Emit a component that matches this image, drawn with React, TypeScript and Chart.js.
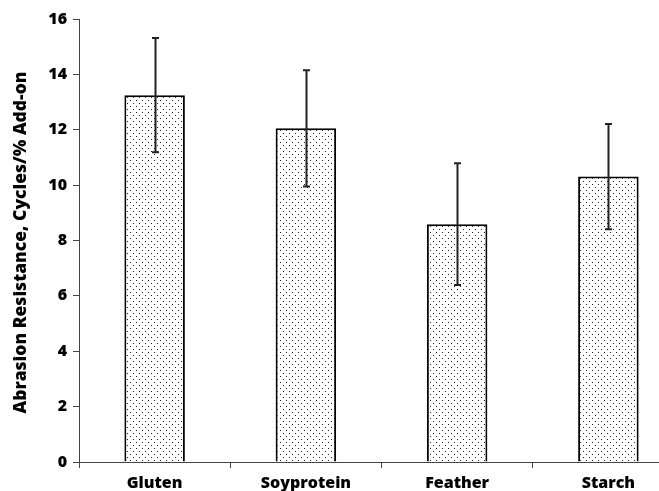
import React, { useEffect, useRef } from "react";
import { Chart, registerables } from "chart.js";

Chart.register(...registerables);

const categories = ["Gluten", "Soyprotein", "Feather", "Starch"];
const values = [13.25, 12.05, 8.59, 10.31];
const errors = [2.06, 2.1, 2.2, 1.9];
const yTicks = [0, 2, 4, 6, 8, 10, 12, 14, 16];
const yTitle = "Abrasion Resistance, Cycles/% Add-on";

const FONT = "'Open Sans'";

function makePattern(): CanvasPattern | string {
  const c = document.createElement("canvas");
  c.width = 6;
  c.height = 6;
  const ctx = c.getContext("2d");
  if (!ctx) return "#ddd";
  ctx.fillStyle = "#ffffff";
  ctx.fillRect(0, 0, 6, 6);
  ctx.fillStyle = "#222222";
  ctx.fillRect(1, 1, 1, 1);
  ctx.fillRect(4, 4, 1, 1);
  const p = ctx.createPattern(c, "repeat");
  return p || "#ddd";
}

const errorBarPlugin = {
  id: "errorBars",
  afterDatasetsDraw(chart: any) {
    const ctx = chart.ctx;
    const meta = chart.getDatasetMeta(0);
    const yScale = chart.scales.y;
    ctx.save();
    ctx.strokeStyle = "#222";
    ctx.lineWidth = 2;
    meta.data.forEach((bar: any, i: number) => {
      const x = Math.round(bar.x) + 0.5;
      const yTop = yScale.getPixelForValue(values[i] + errors[i]);
      const yBot = yScale.getPixelForValue(values[i] - errors[i]);
      ctx.beginPath();
      ctx.moveTo(x, yTop);
      ctx.lineTo(x, yBot);
      ctx.moveTo(x - 3.5, yTop);
      ctx.lineTo(x + 3.5, yTop);
      ctx.moveTo(x - 3.5, yBot);
      ctx.lineTo(x + 3.5, yBot);
      ctx.stroke();
    });
    ctx.restore();
  },
};

const yTitlePlugin = {
  id: "yTitleCustom",
  afterDraw(chart: any) {
    const ctx = chart.ctx;
    const yScale = chart.scales.y;
    const cy = (yScale.top + yScale.bottom) / 2 + 2;
    ctx.save();
    ctx.translate(21.5, cy);
    ctx.rotate(-Math.PI / 2);
    ctx.fillStyle = "#000";
    ctx.font = `800 17.5px ${FONT}`;
    ctx.textAlign = "center";
    ctx.textBaseline = "middle";
    ctx.fillText(yTitle, 0, 0);
    ctx.restore();
  },
};

export default function App() {
  const ref = useRef<HTMLCanvasElement>(null);
  useEffect(() => {
    if (!ref.current) return;
    const chart = new Chart(ref.current, {
      type: "bar",
      data: {
        labels: categories,
        datasets: [
          {
            data: values,
            backgroundColor: makePattern() as any,
            borderColor: "#000",
            borderWidth: 2,
            barPercentage: 0.4,
            categoryPercentage: 1,
          },
        ],
      },
      options: {
        animation: false,
        responsive: false,
        maintainAspectRatio: false,
        layout: { padding: { left: 0, right: 16, top: 19, bottom: 0 } },
        plugins: { legend: { display: false }, tooltip: { enabled: false } },
        scales: {
          x: {
            offset: true,
            grid: {
              offset: true,
              drawOnChartArea: false,
              tickLength: 6,
              color: "#444",
            },
            border: { display: true, color: "#444", width: 1 },
            ticks: {
              color: "#000",
              font: { family: FONT, size: 16, weight: "800" },
              padding: 6,
              maxRotation: 0,
            },
            afterFit(scale: any) {
              scale.height = 29;
            },
          },
          y: {
            min: 0,
            max: 16,
            afterBuildTicks(scale: any) {
              scale.ticks = yTicks.map((v) => ({ value: v }));
            },
            grid: {
              drawOnChartArea: false,
              tickLength: 6,
              color: "#444",
            },
            border: { display: true, color: "#444", width: 1 },
            ticks: {
              color: "#000",
              font: { family: FONT, size: 16, weight: "800" },
              padding: 6,
            },
            title: { display: false },
            afterFit(scale: any) {
              scale.width = 79;
            },
          },
        },
      },
      plugins: [errorBarPlugin, yTitlePlugin],
    });
    return () => chart.destroy();
  }, []);
  return (
    <div
      style={{
        position: "fixed",
        left: 0,
        top: 0,
        width: 659,
        height: 491,
        overflow: "hidden",
        background: "#fff",
      }}
    >
      <canvas ref={ref} width={700} height={491} style={{ display: "block" }} />
    </div>
  );
}
